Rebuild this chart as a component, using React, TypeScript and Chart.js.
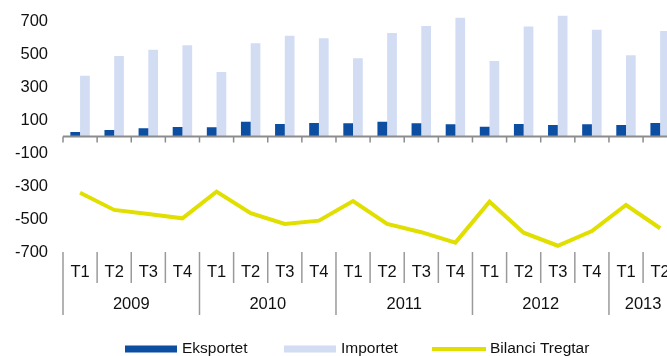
import React, { useEffect, useRef } from "react";
import { Chart, registerables } from "chart.js";

Chart.register(...registerables);

const quarters = ["T1", "T2", "T3", "T4", "T1", "T2", "T3", "T4", "T1", "T2", "T3", "T4", "T1", "T2", "T3", "T4", "T1", "T2"];
const years = ["2009", "2010", "2011", "2012", "2013"];
const yearSpans = [4, 4, 4, 4, 2];
const eksportet = [27, 39, 50, 58, 56, 90, 76, 82, 80, 90, 80, 74, 59, 76, 70, 74, 70, 82];
const importet = [368, 488, 526, 553, 391, 565, 611, 595, 474, 627, 670, 720, 458, 666, 732, 647, 492, 639];
const bilanci = [-341, -445, -470, -496, -334, -465, -530, -510, -391, -530, -580, -643, -395, -583, -662, -573, -415, -556];
const yTicks = [-700, -500, -300, -100, 100, 300, 500, 700];
const seriesNames = ["Eksportet", "Importet", "Bilanci Tregtar"];

const FONT = "'Liberation Sans', Arial, sans-serif";
const DARK = "#0B4EA2";
const LIGHT = "#D2DDF4";
const YELLOW = "#E0DF00";
const AXIS = "#8C8C8C";

const customPlugin = {
  id: "customAxis",
  afterDatasetsDraw(chart: any) {
    const ctx = chart.ctx as CanvasRenderingContext2D;
    const x = chart.scales.x;
    const y = chart.scales.y;
    const area = chart.chartArea;
    const n = quarters.length;
    const step = (area.right - area.left) / n;
    const y0 = y.getPixelForValue(0);
    ctx.save();
    // zero axis line
    ctx.strokeStyle = AXIS;
    ctx.lineWidth = 2;
    ctx.beginPath();
    ctx.moveTo(area.left, y0);
    ctx.lineTo(area.right, y0);
    ctx.stroke();
    ctx.lineWidth = 1.5;
    for (let i = 0; i <= n; i++) {
      const bx = x.getPixelForValue(i) - step / 2;
      ctx.beginPath();
      ctx.moveTo(bx, y0);
      ctx.lineTo(bx, y0 + 6);
      ctx.stroke();
    }
    // category labels
    const top = y.getPixelForValue(-700);
    ctx.strokeStyle = "#9A9A9A";
    ctx.lineWidth = 1.5;
    const yearStarts: number[] = [];
    let acc = 0;
    yearSpans.forEach((s) => {
      yearStarts.push(acc);
      acc += s;
    });
    for (let i = 0; i <= n; i++) {
      const bx = x.getPixelForValue(i) - step / 2;
      const isYear = yearStarts.includes(i) || i === n;
      ctx.beginPath();
      ctx.moveTo(bx, top);
      ctx.lineTo(bx, isYear ? top + 63 : top + 31);
      ctx.stroke();
    }
    ctx.fillStyle = "#111";
    ctx.font = `16.5px ${FONT}`;
    ctx.textAlign = "center";
    ctx.textBaseline = "middle";
    quarters.forEach((q, i) => {
      ctx.fillText(q, x.getPixelForValue(i), top + 20);
    });
    years.forEach((yr, k) => {
      const s = yearStarts[k];
      const cx = (x.getPixelForValue(s) + x.getPixelForValue(s + yearSpans[k] - 1)) / 2;
      ctx.fillText(yr, cx, top + 52);
    });
    // legend
    const ly = 349;
    ctx.font = `15.5px ${FONT}`;
    ctx.textAlign = "left";
    ctx.fillStyle = DARK;
    ctx.fillRect(125, ly - 3.5, 52, 7);
    ctx.fillStyle = LIGHT;
    ctx.fillRect(284, ly - 3.5, 52, 7);
    ctx.strokeStyle = YELLOW;
    ctx.lineWidth = 4;
    ctx.beginPath();
    ctx.moveTo(432, ly);
    ctx.lineTo(486, ly);
    ctx.stroke();
    ctx.fillStyle = "#111";
    ctx.fillText(seriesNames[0], 182, ly);
    ctx.fillText(seriesNames[1], 341, ly);
    ctx.fillText(seriesNames[2], 490, ly);
    ctx.restore();
  },
};

export default function App() {
  const ref = useRef<HTMLCanvasElement>(null);
  useEffect(() => {
    if (!ref.current) return;
    const chart = new Chart(ref.current, {
      type: "bar",
      data: {
        labels: quarters.map((q, i) => q + "-" + i),
        datasets: [
          {
            type: "line",
            label: seriesNames[2],
            data: bilanci,
            borderColor: YELLOW,
            backgroundColor: YELLOW,
            borderWidth: 4,
            pointRadius: 0,
            tension: 0,
            fill: false,
            order: 0,
          } as any,
          {
            label: seriesNames[0],
            data: eksportet,
            backgroundColor: DARK,
            categoryPercentage: 0.57,
            barPercentage: 1,
            order: 1,
          },
          {
            label: seriesNames[1],
            data: importet,
            backgroundColor: LIGHT,
            categoryPercentage: 0.57,
            barPercentage: 1,
            order: 1,
          },
        ],
      },
      options: {
        responsive: false,
        animation: false,
        layout: { padding: { top: 4.5, bottom: 104, left: 0, right: 12.8 } },
        plugins: { legend: { display: false }, tooltip: { enabled: false } },
        scales: {
          x: { display: false, offset: true },
          y: {
            min: -700,
            max: 800,
            afterBuildTicks: (scale: any) => {
              scale.ticks = yTicks.map((v) => ({ value: v }));
            },
            afterFit: (scale: any) => {
              scale.width = 63;
              scale.paddingTop = 0;
              scale.paddingBottom = 0;
            },
            grid: { display: false, drawTicks: false, tickLength: 0 },
            border: { display: false },
            ticks: {
              padding: 15,
              color: "#111",
              font: { family: FONT, size: 16.5 },
              callback: (v: any) => String(v),
            },
          },
        },
      },
      plugins: [customPlugin],
    });
    return () => chart.destroy();
  }, []);
  return (
    <div style={{ position: "fixed", left: 0, top: 0, width: 667, height: 356, overflow: "hidden", background: "#fff" }}>
      <canvas ref={ref} width={690} height={356} style={{ display: "block" }} />
    </div>
  );
}
